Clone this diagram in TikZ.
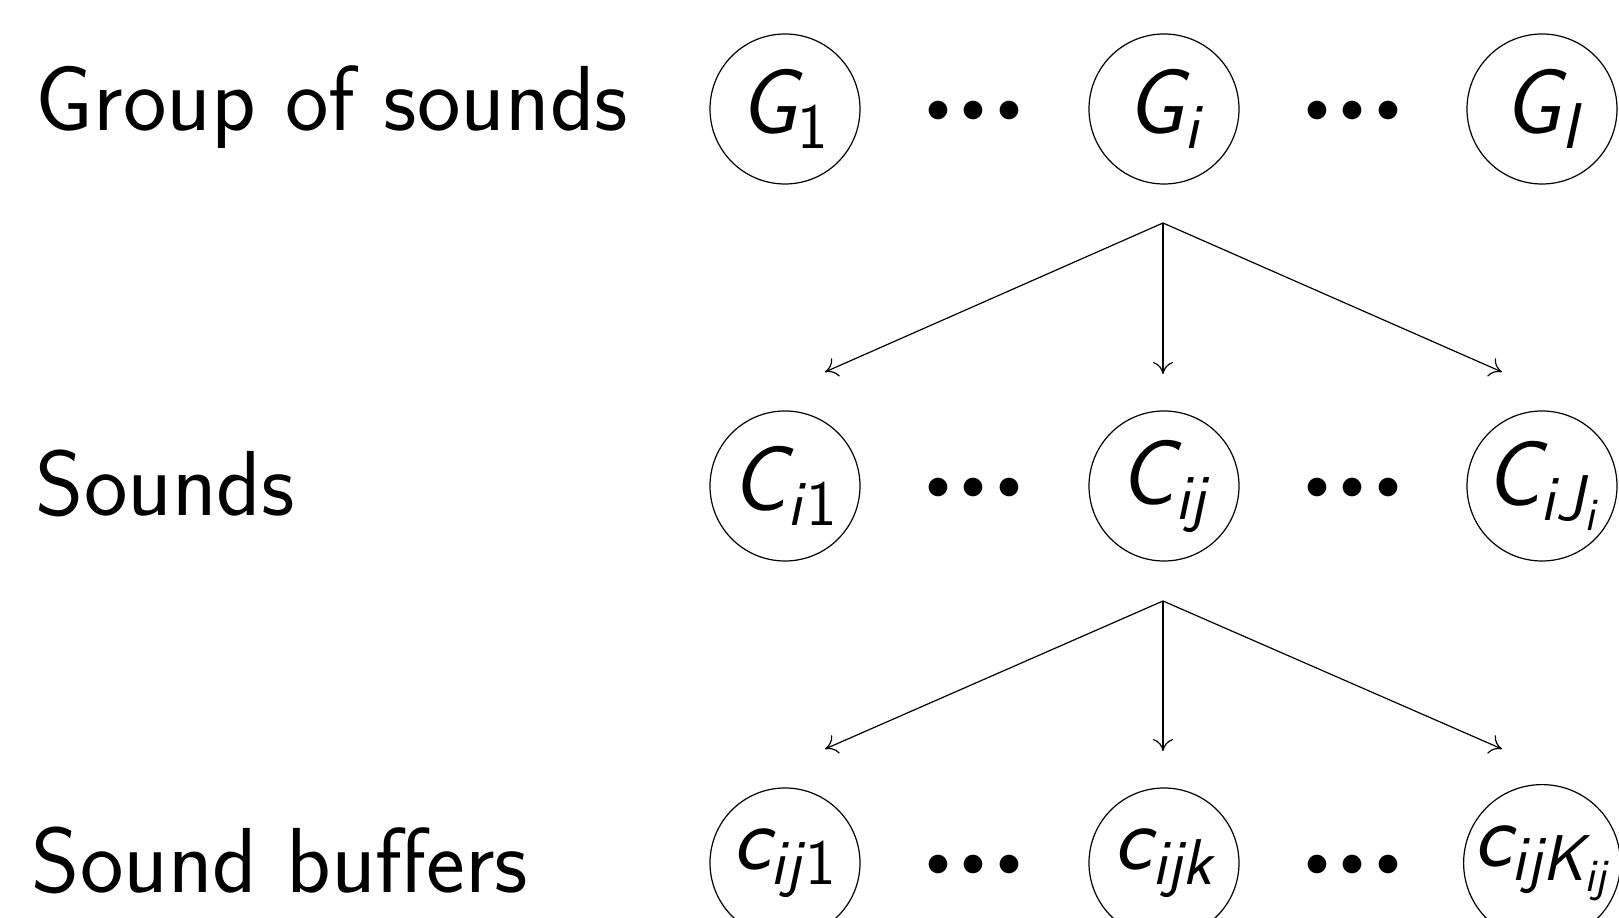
\documentclass[tikz,border=0pt]{standalone}
\usepackage{amsmath}
\usetikzlibrary{arrows.meta}
\newcommand{\sv}[1]{\textsf{\itshape #1}}
\newcommand{\su}[1]{\textsf{#1}}
\newcommand{\bigdots}{$\scriptscriptstyle\bullet\mkern4.5mu\bullet\mkern4.5mu\bullet$}
\begin{document}
\begin{tikzpicture}[x=0.25pt,y=-0.25pt,
  every node/.style={font=\fontsize{23.1}{28}\selectfont\sffamily},
  circ/.style={draw,circle,minimum size=37.5pt,inner sep=0pt,line width=0.3pt},
  lbl/.style={anchor=base west,inner sep=0pt},
  dotsnode/.style={inner sep=0pt},
  arr/.style={-{To[length=3pt,width=5pt]},line width=0.3pt}]
\useasboundingbox (0,0) rectangle (1619,918);
% labels
\node[lbl] (L1) at (35,131) {Group of sounds};
\node[lbl] (L2) at (35,516) {Sounds};
\node[lbl] (L3) at (31,893) {Sound buffers};
% row 1
\node[circ] (G1) at (785,109) {$\sv{G}_{\su{1}}$};
\node[circ] (Gi) at (1164,109) {$\sv{G}_{\sv{i}}$};
\node[circ] (GI) at (1542,109) {$\sv{G}_{\sv{I}}$};
\node[dotsnode] (d11) at (974,112) {\bigdots};
\node[dotsnode] (d12) at (1353,112) {\bigdots};
% row 2
\node[circ] (C1) at (785,486) {$\sv{C}_{\sv{i\/}\su{1}}$};
\node[circ] (Cj) at (1164,486) {$\sv{C}_{\sv{ij}}$};
\node[circ] (CJ) at (1542,486) {$\sv{C}_{\sv{i}\sv{J}_{\sv{i}}}$};
\node[dotsnode] (d21) at (974,489) {\bigdots};
\node[dotsnode] (d22) at (1353,489) {\bigdots};
% row 3
\node[circ] (c1) at (785,863) {$\sv{c}_{\sv{ij\/}\su{1}}$};
\node[circ] (ck) at (1164,863) {$\sv{c}_{\sv{ijk}}$};
\node[circ] (cK) at (1542,863) {$\sv{c}_{\sv{ij}\sv{K}_{\sv{ij}}}$};
\node[dotsnode] (d31) at (974,866) {\bigdots};
\node[dotsnode] (d32) at (1353,866) {\bigdots};
% arrows
\coordinate (a1) at (1163,223);
\coordinate (b1) at (825,372);
\coordinate (b2) at (1163,374);
\coordinate (b3) at (1502,372);
\coordinate (a2) at (1163,601);
\coordinate (e1) at (825,749);
\coordinate (e2) at (1163,751);
\coordinate (e3) at (1502,749);
\draw[arr] (a1) -- (b1);
\draw[arr] (a1) -- (b2);
\draw[arr] (a1) -- (b3);
\draw[arr] (a2) -- (e1);
\draw[arr] (a2) -- (e2);
\draw[arr] (a2) -- (e3);
\end{tikzpicture}
\end{document}
